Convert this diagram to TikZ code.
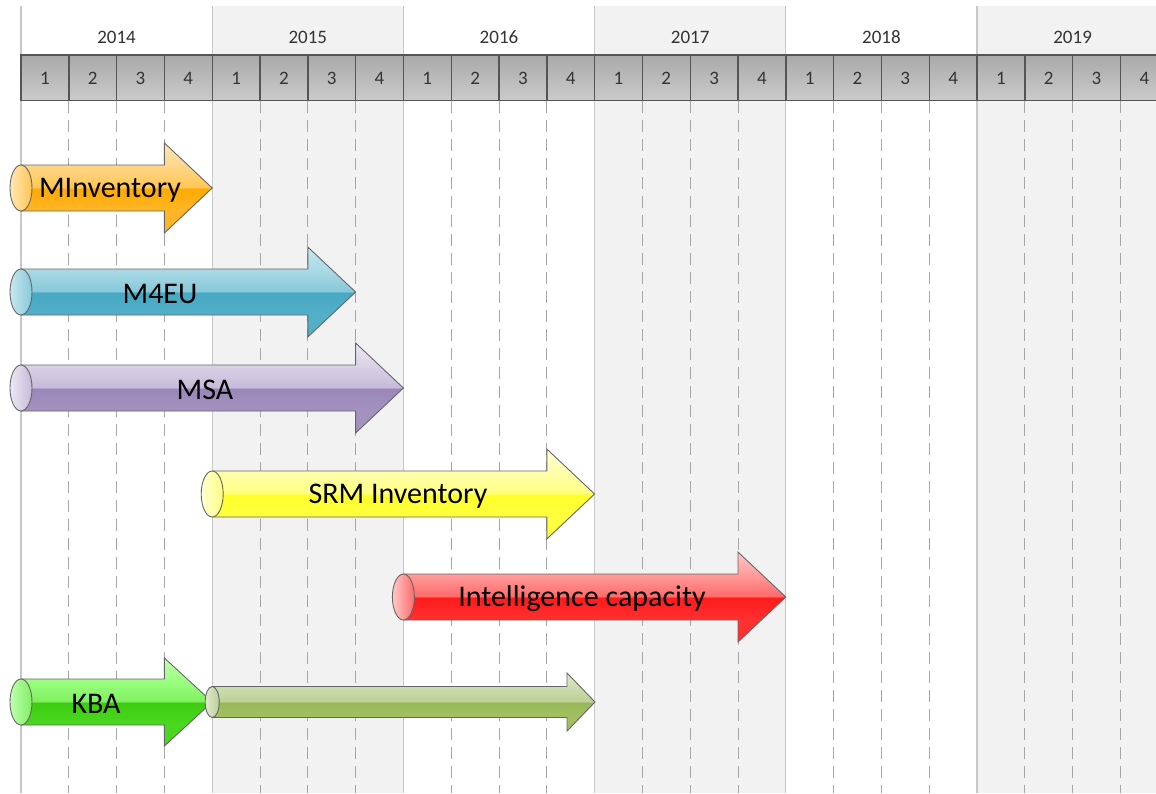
\documentclass[tikz,border=0pt]{standalone}
\usepackage{fontspec}
\setmainfont{Carlito}
\definecolor{yearbg}{HTML}{F2F2F2}
\definecolor{yearline}{HTML}{C8C8C8}
\definecolor{qdash}{HTML}{A6A6A6}
\definecolor{barTop}{HTML}{A9A9A9}
\definecolor{barBot}{HTML}{CBCBCB}
\definecolor{barEdge}{HTML}{555555}
\definecolor{hdrtext}{HTML}{333333}
\definecolor{outline}{HTML}{666666}
\newcommand\mkgloss[6]{%
 \definecolor{#1B}{HTML}{#2}\definecolor{#1C}{HTML}{#3}\definecolor{#1M}{HTML}{#4}%
 \definecolor{#1T}{HTML}{#5}\definecolor{#1H}{HTML}{#6}%
 \pgfdeclareverticalshading{gloss#1}{100bp}{color(0bp)=(#1B); color(25bp)=(#1B); color(38bp)=(#1B); color(49.8bp)=(#1C); color(50.2bp)=(#1M); color(62bp)=(#1T); color(75bp)=(#1H); color(100bp)=(#1H)}%
 \tikzset{cap#1/.style={left color=#1H, right color=#1M}}%
}
\mkgloss{Orange}{FFB526}{FFAA00}{FFC653}{FFD688}{FFE6B5}
\mkgloss{Blue}{52AFC8}{46A8C3}{86C9DA}{A9D9E5}{C8E7EF}
\mkgloss{Purple}{A391C0}{9A87B9}{C6BBDA}{D9D1E6}{ECE8F3}
\mkgloss{Yellow}{FFFF40}{FFFF2A}{FFFF80}{FFFFAA}{FFFFD5}
\mkgloss{Red}{FF3030}{FF1A1A}{FF6A6A}{FF9A9A}{FFC8C8}
\mkgloss{Green}{4AD81E}{3CCC10}{7FF060}{9AFF80}{C0FFB0}
\mkgloss{Olive}{A2C062}{98B856}{BDD096}{CCDBAE}{DFE9CE}
\tikzset{
  arrowline/.style={draw=outline, line width=0.9pt, line join=miter},
  yeartext/.style={font=\fontsize{19}{19}\selectfont, text=hdrtext, anchor=center},
  qtext/.style={font=\fontsize{19}{19}\selectfont, text=hdrtext, anchor=center},
  labeltext/.style={font=\fontsize{30}{30}\selectfont, text=black, anchor=center, inner sep=0pt},
  qcell/.style={top color=barTop, bottom color=barBot, draw=barEdge, line width=1.4pt},
  qline/.style={draw=qdash, line width=1pt, dash pattern=on 12pt off 7pt},
  yline/.style={draw=yearline, line width=1.2pt}
}
% #1 x0, #2 head start, #3 tip, #4 centre y, #5 body half height, #6 head half height, #7 cap x radius, #8 colour
\newcommand\tlarrow[8]{%
  \shadedraw[arrowline, shading=gloss#8] (#1,#4-#5) -- (#2,#4-#5) -- (#2,#4-#6) -- (#3,#4)
     -- (#2,#4+#6) -- (#2,#4+#5) -- (#1,#4+#5) -- cycle;
  \shadedraw[arrowline, cap#8] (#1,#4) ellipse [x radius=#7, y radius=#5];
}
\begin{document}
\begin{tikzpicture}[x=1pt, y=-1pt]
\useasboundingbox (0,0) rectangle (1156,793);
\clip (0,0) rectangle (1156,793);
\fill[white] (0,0) rectangle (1156,793);
% grey columns for 2015, 2017, 2019
\foreach \k in {1,3,5} {
  \fill[yearbg] ({21+191.2*\k},6) rectangle ({21+191.2*(\k+1)},793);
}
% year lines
\foreach \k in {0,...,6} {
  \draw[yline] ({21+191.2*\k},6) -- ({21+191.2*\k},793);
}
% dashed quarter lines
\foreach \k in {0,...,5} {
  \foreach \q in {1,2,3} {
    \draw[qline] ({21+191.2*\k+47.8*\q},101) -- ({21+191.2*\k+47.8*\q},793);
  }
}
% year labels
\foreach \k/\yr in {0/2014,1/2015,2/2016,3/2017,4/2018,5/2019} {
  \node[yeartext] (y\yr) at ({21+191.2*\k+95.6},37) {\yr};
}
% quarter bar
\foreach \k in {0,...,5} {
  \foreach \q in {0,1,2,3} {
    \shadedraw[qcell] ({21+191.2*\k+47.8*\q},55) rectangle ({21+191.2*\k+47.8*(\q+1)},100.5);
    \pgfmathtruncatemacro\qn{\q+1}
    \node[qtext] (q\k\q) at ({21+191.2*\k+47.8*\q+23.9},78) {\qn};
  }
}
% arrows
\tlarrow{21}{164.4}{212.2}{188}{23}{45}{11}{Orange}
\node[labeltext] (minv) at (110,190) {MInventory};
\tlarrow{21}{307.8}{355.6}{292}{23}{45}{11}{Blue}
\node[labeltext] (m4eu) at (160,294) {M4EU};
\tlarrow{21}{355.6}{403.4}{388}{23}{45}{11}{Purple}
\node[labeltext] (msa) at (205,390) {MSA};
\tlarrow{212.2}{546.8}{594.6}{494}{23}{45}{11}{Yellow}
\node[labeltext] (srm) at (398,496) {SRM Inventory};
\tlarrow{403.4}{738}{785.8}{597}{23}{45}{11}{Red}
\node[labeltext] (intel) at (582,599) {Intelligence capacity};
\tlarrow{21}{164.4}{212.2}{702}{23}{44}{11}{Green}
\node[labeltext] (kba) at (96,704) {KBA};
\tlarrow{212.2}{567}{595}{702}{15.5}{29}{7}{Olive}
\end{tikzpicture}
\end{document}
